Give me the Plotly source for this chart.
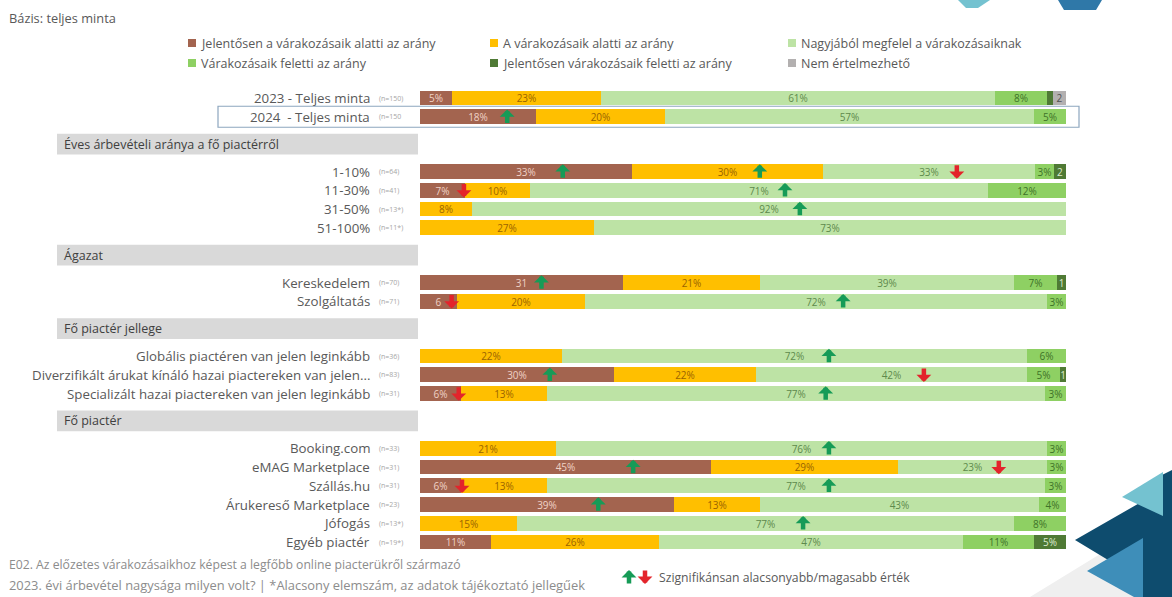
import plotly.graph_objects as go

# ---------------- data ----------------
categories = ["2023 - Teljes minta", "2024  - Teljes minta",
              "1-10%", "11-30%", "31-50%", "51-100%",
              "Kereskedelem", "Szolgáltatás",
              "Globális piactéren van jelen leginkább",
              "Diverzifikált árukat kínáló hazai piactereken van jelen...",
              "Specializált hazai piactereken van jelen leginkább",
              "Booking.com", "eMAG Marketplace", "Szállás.hu", "Árukereső Marketplace",
              "Jófogás", "Egyéb piactér"]
sample_sizes = ["(n=150)", "(n=150", "(n=64)", "(n=41)", "(n=13*)", "(n=11*)",
                "(n=70)", "(n=71)", "(n=36)", "(n=83)", "(n=31)",
                "(n=33)", "(n=31)", "(n=31)", "(n=23)", "(n=13*)", "(n=19*)"]
row_section = [0, 0, 1, 1, 1, 1, 2, 2, 3, 3, 3, 4, 4, 4, 4, 4, 4]
section_titles = [None, "Éves árbevételi aránya a fő piactérről", "Ágazat",
                  "Fő piactér jellege", "Fő piactér"]

series_names = ["Jelentősen a várakozásaik alatti az arány",
                "A várakozásaik alatti az arány",
                "Nagyjából megfelel a várakozásaiknak",
                "Várakozásaik feletti az arány",
                "Jelentősen várakozásaik feletti az arány",
                "Nem értelmezhető"]
# unrounded shares (labels show them rounded)
s_brown = [5, 18, 32.8, 7, None, None, 31.4, 5.8, None, 30, 6.3, None, 45, 6.3, 39.3, None, 11]
s_yellow = [23, 20, 29.6, 10, 8, 27, 21.2, 19.7, 22, 22, 13.3, 21, 29, 13.3, 13.3, 15, 26]
s_light = [61, 57, 32.8, 71, 92, 73, 39.3, 71.6, 72, 42, 77.2, 76, 23, 77.2, 43.2, 77, 47]
s_mid = [8, 5, 3.0, 12, None, None, 6.7, 2.9, 6, 5, 3.2, 3, 3, 3.2, 4.2, 8, 11]
s_dark = [1, None, 1.8, None, None, None, 1.4, None, None, 1, None, None, None, None, None, None, 5]
s_gray = [2, None, None, None, None, None, None, None, None, None, None, None, None, None, None, None, None]
series_values = [s_brown, s_yellow, s_light, s_mid, s_dark, s_gray]

# label texts that differ from "<value>%"  -> (series index, row index): text
label_overrides = {(0, 6): "31", (0, 7): "6", (4, 0): "", (4, 2): "2", (4, 6): "1",
                   (4, 9): "1", (5, 0): "2"}

# significance arrows
arrow_rows = [1, 2, 2, 2, 3, 3, 4, 6, 7, 7, 8, 9, 9, 10, 10, 11, 12, 12, 13, 13, 14, 15]
arrow_x = [13.5, 22.1, 52.6, 83.1, 6.8, 56.5, 58.8, 18.8, 4.9, 65.5, 63.3, 20.1, 78.0,
           6.0, 62.8, 63.3, 33.0, 89.6, 6.5, 63.3, 27.6, 59.3]
arrow_dir = ["up", "up", "up", "down", "down", "up", "up", "up", "down", "up", "up", "up",
             "down", "down", "up", "up", "up", "down", "down", "up", "up", "up"]

# ---------------- style ----------------
colors = ["#A3644F", "#FFBF00", "#BDE3A5", "#8ED063", "#4F7A35", "#B3B0B0"]
text_colors = ["#F0D2C6", "#9A6400", "#5E8A4C", "#3E7328", "#DDEBCF", "#505050"]
GREEN_ARROW = "#169B57"
RED_ARROW = "#E3242B"
TXT = "#595959"
FONT = "Open Sans"

W, H = 1172, 597
L_PX, R_PX = 420, 1066
Y0_PX, STEP = 98.0, 18.75
SECTION_GAP = 1.92


def xpaper(px):
    return (px - L_PX) / (R_PX - L_PX)


def ypaper_px(py):
    return 1 - py / H


def unit_to_paper(u):
    return ypaper_px(Y0_PX + u * STEP)


row_y = [i + SECTION_GAP * s for i, s in enumerate(row_section)]

fig = go.Figure()

for si, (name, vals) in enumerate(zip(series_names, series_values)):
    texts = []
    for ri, v in enumerate(vals):
        if v is None:
            texts.append("")
        else:
            texts.append(label_overrides.get((si, ri), f"{round(v)}%"))
    fig.add_trace(go.Bar(
        y=row_y, x=vals, orientation="h", name=name, width=0.78,
        marker=dict(color=colors[si], line=dict(width=0)),
        text=texts, textposition="inside", insidetextanchor="middle",
        textangle=0, constraintext="none",
        textfont=dict(size=10, color=text_colors[si], family=FONT),
        hoverinfo="skip", showlegend=False,
    ))

shapes = []
annotations = []

# row labels
for ri, (cat, n) in enumerate(zip(categories, sample_sizes)):
    annotations.append(dict(xref="paper", yref="y", x=xpaper(372), y=row_y[ri],
                            text=cat, showarrow=False, xanchor="right", yanchor="middle",
                            font=dict(size=13.3, color=TXT, family=FONT)))
    annotations.append(dict(xref="paper", yref="y", x=xpaper(377), y=row_y[ri],
                            text=n, showarrow=False, xanchor="left", yanchor="middle",
                            font=dict(size=7, color="#A6A6A6", family=FONT)))

# section headers
for s in range(1, len(section_titles)):
    first = row_section.index(s)
    hy = row_y[first] - (1 + SECTION_GAP) / 2
    shapes.append(dict(type="rect", xref="paper", yref="paper",
                       x0=xpaper(57), x1=xpaper(418),
                       y0=unit_to_paper(hy - 0.55), y1=unit_to_paper(hy + 0.55),
                       fillcolor="#D9D9D9", line=dict(width=0), layer="below"))
    annotations.append(dict(xref="paper", yref="y", x=xpaper(62), y=hy,
                            text=section_titles[s], showarrow=False, xanchor="left",
                            yanchor="middle",
                            font=dict(size=12.5, color="#404040", family=FONT)))

# highlight box around 2024 row
shapes.append(dict(type="rect", xref="paper", yref="paper",
                   x0=xpaper(218), x1=xpaper(1079),
                   y0=unit_to_paper(row_y[1] - 0.56), y1=unit_to_paper(row_y[1] + 0.56),
                   line=dict(color="#8DA6BE", width=1.2), fillcolor="rgba(0,0,0,0)",
                   layer="above"))


# significance arrows
def arrow(x, y, direction, xref="x", yref="y", half=0.39):
    up = direction == "up"
    return dict(xref=xref, yref=yref, x=x, y=(y - half) if up else (y + half),
                ax=0, ay=15 if up else -15, text="",
                showarrow=True, arrowhead=1, arrowsize=0.55, arrowwidth=4.5,
                arrowcolor=GREEN_ARROW if up else RED_ARROW, standoff=0, startstandoff=0)


for r, x, d in zip(arrow_rows, arrow_x, arrow_dir):
    annotations.append(arrow(x, row_y[r], d))

# legend (manual, 3 columns)
leg_cols = [188, 490, 788]
leg_rows = [43, 63]
for i, name in enumerate(series_names):
    cx = leg_cols[i % 3]
    cy = leg_rows[i // 3]
    shapes.append(dict(type="rect", xref="paper", yref="paper",
                       x0=xpaper(cx), x1=xpaper(cx + 8),
                       y0=ypaper_px(cy + 4), y1=ypaper_px(cy - 4),
                       fillcolor=colors[i], line=dict(width=0)))
    annotations.append(dict(xref="paper", yref="paper", x=xpaper(cx + 11), y=ypaper_px(cy),
                            text=name, showarrow=False, xanchor="left", yanchor="middle",
                            font=dict(size=12.5, color=TXT, family=FONT)))

# top texts
annotations.append(dict(xref="paper", yref="paper", x=xpaper(7), y=ypaper_px(18),
                        text="Bázis: teljes minta", showarrow=False, xanchor="left",
                        yanchor="middle", font=dict(size=12.8, color=TXT, family=FONT)))

# footnotes
annotations.append(dict(xref="paper", yref="paper", x=xpaper(7), y=ypaper_px(564),
                        text="E02. Az előzetes várakozásaikhoz képest a legfőbb online piacterükről származó",
                        showarrow=False, xanchor="left", yanchor="middle",
                        font=dict(size=12.2, color="#8C8C8C", family=FONT)))
annotations.append(dict(xref="paper", yref="paper", x=xpaper(7), y=ypaper_px(585),
                        text="2023. évi árbevétel nagysága milyen volt? | *Alacsony elemszám, az adatok tájékoztató jellegűek",
                        showarrow=False, xanchor="left", yanchor="middle",
                        font=dict(size=12.9, color="#8C8C8C", family=FONT)))
annotations.append(dict(xref="paper", yref="paper", x=xpaper(657), y=ypaper_px(577),
                        text="Szignifikánsan alacsonyabb/magasabb érték", showarrow=False,
                        xanchor="left", yanchor="middle",
                        font=dict(size=12.2, color=TXT, family=FONT)))
annotations.append(arrow(xpaper(629), ypaper_px(577), "up", "paper", "paper", half=-7 / H))
annotations.append(arrow(xpaper(645), ypaper_px(577), "down", "paper", "paper", half=-7 / H))


# decorative logo
def poly(points):
    return "M " + " L ".join(f"{xpaper(px):.5f},{ypaper_px(py):.5f}" for px, py in points) + " Z"


logo = [
    ([(1030, 597), (1172, 510), (1172, 597)], "#EFEFEF"),
    ([(1075, 540), (1150, 497), (1160, 476), (1172, 470), (1172, 597), (1140, 597), (1118, 566)], "#0E4C6E"),
    ([(1087, 571), (1143, 538), (1143, 597), (1134, 597)], "#3E8EB9"),
    ([(1122, 497), (1163, 472), (1163, 516)], "#74C2D0"),
    ([(958, 0), (990, 0), (978, 8), (966, 8)], "#74C2D0"),
    ([(1058, 0), (1102, 0), (1096, 10), (1064, 10)], "#2F78A8"),
]
for pts, col in logo:
    shapes.append(dict(type="path", xref="paper", yref="paper", path=poly(pts),
                       fillcolor=col, line=dict(width=0), layer="below"))

fig.update_layout(
    width=W, height=H, autosize=False,
    margin=dict(l=L_PX, r=W - R_PX, t=0, b=0, pad=0),
    barmode="stack", bargap=0,
    plot_bgcolor="white", paper_bgcolor="white",
    xaxis=dict(range=[0, 100], visible=False, fixedrange=True),
    yaxis=dict(range=[(H - Y0_PX) / STEP, -Y0_PX / STEP], visible=False, fixedrange=True),
    shapes=shapes, annotations=annotations,
    font=dict(family=FONT, color=TXT),
    showlegend=False,
)

fig.write_html("out.html")
